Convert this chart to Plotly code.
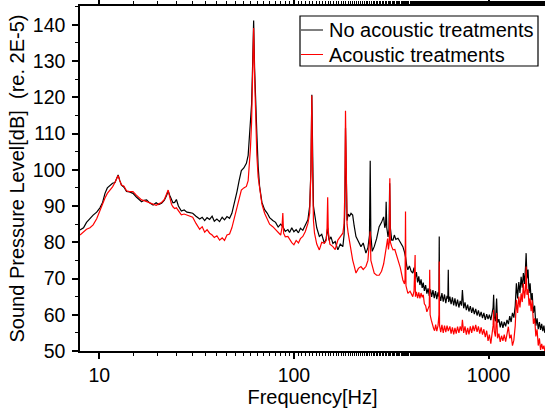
import plotly.graph_objects as go

# ---- data ----
black_freq_low = [7.96, 8.3, 8.6, 8.96, 9.3, 9.7, 10.08, 10.4, 10.7, 11.0, 11.35, 11.7, 12.04, 12.3, 12.5, 12.75,
              13.0, 13.4, 13.8, 14.3, 14.9, 15.5, 16.0, 16.5, 17.0, 17.5, 18.2, 18.9, 19.6, 20.2, 20.9, 21.6,
              22.2, 22.6, 23.0, 23.5, 23.9, 24.4, 24.9, 25.5, 26.4, 27.3, 28.2, 29.2, 30.2, 31.4, 32.8, 33.8,
              34.8, 35.8, 36.9, 38.0, 39.0, 40.2, 41.5, 42.8, 44.0, 45.3, 46.7, 48.0, 49.6, 51.0, 52.3, 53.7,
              55.3, 57.0, 58.2, 59.0, 59.8, 60.6, 61.3, 62.1, 62.8, 63.5, 64.5, 65.5, 66.6, 68.5, 70.7, 73.0,
              75.0, 77.9, 80.5, 83.0, 85.5, 87.7, 90.3, 93.1, 95.0, 97.5, 100, 102.7, 105.5, 108.0, 111.1,
              114.5, 118.0, 120.5, 122.3, 123.6, 124.8, 126.0, 127.6, 131.0, 135.1, 139.0, 143.4, 146.5,
              149.1, 151.5, 155.0, 158.6, 163.0, 168.2, 173.0, 178.4, 181.0, 182.8, 184.1, 185.5, 187.5,
              190.0, 192.9, 196.5, 200.4, 204.0, 208.4, 214.5, 221.0, 227.0, 234.4, 240.0, 244.5, 246.6,
              248.5, 252.5, 258.6, 266.0, 274.1, 282.0, 289.0, 293.0, 296.0, 297.8, 300.0, 304.5, 308.0,
              310.5, 313.0, 318.0, 323.0, 328.0, 334.0, 342.5, 352.0, 362.8, 369.0, 374.4, 380.0, 385.0,
              392.0, 400.0]
black_db_low = [83.4, 84.0, 85.5, 86.7, 87.5, 88.3, 89.5, 91.0, 93.5, 95.0, 95.8, 96.3, 96.5, 97.5, 98.6, 97.0,
            95.8, 95.2, 94.0, 93.9, 93.5, 92.5, 91.8, 91.2, 91.6, 91.7, 90.8, 90.3, 90.9, 90.4, 90.8, 91.6,
            93.0, 94.2, 93.0, 91.5, 90.9, 91.0, 91.8, 90.0, 88.6, 88.9, 88.3, 88.2, 88.0, 87.2, 86.4, 86.9,
            86.0, 86.8, 86.3, 87.2, 85.8, 86.4, 85.7, 86.9, 86.2, 87.1, 86.6, 88.0, 91.0, 94.0, 97.0, 99.8,
            100.5, 101.8, 104.0, 108.0, 113.0, 118.0, 128.0, 141.2, 128.0, 118.0, 110.0, 101.0, 95.5, 91.0,
            89.0, 88.0, 86.8, 86.0, 85.5, 84.2, 85.0, 84.3, 83.0, 83.5, 82.7, 84.0, 82.9, 83.5, 82.6, 83.9,
            83.3, 84.8, 86.2, 90.0, 100.0, 120.7, 100.0, 90.0, 88.0, 84.0, 81.6, 82.2, 79.7, 81.0, 84.0,
            80.5, 81.5, 79.7, 80.2, 77.9, 79.5, 78.8, 82.0, 90.0, 111.5, 92.0, 86.0, 87.8, 87.1, 88.0, 87.5,
            84.5, 81.6, 80.2, 78.8, 79.8, 77.0, 78.5, 82.0, 102.5, 82.0, 77.5, 78.8, 81.0, 84.3, 85.5, 87.0,
            84.0, 85.0, 91.2, 84.0, 81.5, 83.5, 96.3, 84.0, 80.6, 80.6, 82.0, 80.8, 81.1, 80.0, 78.8, 77.5,
            76.0, 73.5, 72.4, 73.5, 72.0]
black_freq_high = [408, 414, 420, 426, 432, 438, 444, 450, 456, 462,
                   468, 475, 482, 489, 496, 503, 510, 518, 526, 534,
                   542, 550, 556, 558, 560, 568, 576, 585, 594, 603,
                   612, 618, 621, 624, 633, 642, 652, 662, 672, 682,
                   693, 704, 715, 726, 734, 745, 757, 769, 781, 793,
                   806, 819, 832, 845, 859, 873, 887, 901, 916, 931,
                   946, 962, 978, 994, 1010, 1027, 1044, 1055, 1062, 1070,
                   1085, 1100, 1112, 1130, 1148, 1166, 1185, 1204, 1224, 1244,
                   1264, 1285, 1306, 1327, 1349, 1371, 1390, 1410, 1430, 1450,
                   1470, 1490, 1510, 1530, 1548, 1560, 1575, 1595, 1615, 1635,
                   1655, 1675, 1700, 1725, 1750, 1775, 1800, 1825, 1850, 1875,
                   1900, 1925, 1945]
black_db_high = [71.5, 73.0, 70.0, 71.8, 68.9, 70.6, 68.2, 69.8, 67.4, 68.9,
                 66.6, 68.2, 65.8, 67.3, 65.2, 67.0, 64.9, 66.8, 64.6, 66.5,
                 64.3, 66.2, 65.0, 81.6, 65.5, 63.8, 66.0, 63.6, 65.6, 63.2,
                 65.2, 64.5, 72.4, 63.5, 65.0, 62.9, 64.8, 62.6, 64.5, 62.3,
                 64.2, 62.0, 63.8, 62.5, 66.8, 61.8, 63.4, 61.3, 62.8, 60.9,
                 62.4, 60.5, 62.0, 60.2, 61.6, 59.8, 61.2, 59.5, 60.8, 59.1,
                 60.5, 58.6, 60.2, 58.8, 60.0, 58.5, 60.3, 62.0, 65.5, 59.5,
                 58.2, 64.5, 57.8, 58.8, 56.5, 58.2, 56.4, 58.0, 56.8, 58.6,
                 57.4, 59.6, 58.0, 60.5, 59.2, 62.5, 68.7, 64.5, 69.0, 66.0,
                 70.5, 67.5, 71.5, 68.5, 73.0, 77.0, 70.0, 72.5, 66.0, 68.7,
                 64.0, 66.0, 60.5, 62.5, 57.0, 59.0, 56.0, 58.0, 55.8, 57.5,
                 55.5, 57.0, 55.0]

red_freq_low = [7.96, 8.3, 8.6, 8.96, 9.3, 9.7, 10.08, 10.4, 10.7, 11.0, 11.35, 11.7, 12.04, 12.3, 12.5, 12.75,
            13.0, 13.4, 13.8, 14.3, 14.9, 15.5, 16.0, 16.5, 17.0, 17.5, 18.2, 18.9, 19.6, 20.2, 20.9, 21.6,
            22.2, 22.6, 23.0, 23.5, 23.9, 24.4, 24.9, 25.5, 26.4, 27.3, 28.2, 29.2, 30.2, 31.4, 32.8, 33.8,
            34.8, 35.8, 36.9, 38.0, 39.0, 40.2, 41.5, 42.8, 44.0, 45.3, 46.7, 48.0, 49.6, 51.0, 52.3, 53.7,
            55.3, 57.0, 58.2, 59.0, 59.8, 60.6, 61.3, 62.1, 62.8, 63.5, 64.5, 65.5, 66.6, 68.5, 70.7, 73.0,
            75.0, 77.9, 80.5, 83.0, 85.5, 86.8, 87.7, 88.5, 90.3, 93.1, 95.0, 97.5, 100, 102.7, 105.5, 108.0,
            111.1, 114.5, 118.0, 120.5, 122.3, 123.6, 124.8, 126.0, 127.6, 131.0, 135.1, 139.0, 143.4,
            146.5, 148.0, 149.1, 150.2, 153.0, 158.6, 163.0, 168.2, 173.0, 178.4, 181.0, 182.8, 184.1,
            185.5, 187.5, 190.0, 192.9, 196.5, 200.4, 204.0, 208.4, 214.5, 221.0, 227.0, 234.4, 240.0,
            244.0, 246.6, 248.5, 252.5, 258.6, 266.0, 274.1, 282.0, 289.0, 295.0, 299.0, 303.0, 306.0,
            309.0, 311.0, 313.0, 318.0, 323.0, 330.0, 336.0, 342.5, 352.0, 362.8, 370.0, 372.5, 374.4,
            376.5, 385.0, 395.0]
red_db_low = [82.0, 83.0, 83.6, 84.0, 84.8, 86.5, 88.9, 90.8, 92.2, 93.5, 94.4, 95.3, 96.5, 97.8, 98.4, 97.0,
          95.8, 95.5, 94.2, 94.0, 94.0, 93.0, 92.2, 91.7, 91.5, 91.2, 91.0, 90.5, 90.2, 90.6, 91.0, 91.8,
          93.4, 94.4, 92.5, 90.5, 89.8, 89.3, 89.5, 88.6, 87.6, 87.8, 87.5, 87.3, 86.9, 85.2, 83.6, 84.3,
          82.8, 83.5, 82.5, 82.0, 81.3, 81.8, 80.6, 81.2, 80.5, 82.0, 82.3, 84.0, 87.1, 90.0, 92.5, 94.4,
          95.0, 95.4, 97.0, 101.0, 106.0, 113.0, 124.0, 139.1, 126.0, 114.0, 104.0, 98.0, 95.4, 90.5, 88.0,
          86.5, 85.0, 84.3, 83.5, 82.6, 82.0, 84.0, 88.1, 82.5, 81.5, 81.6, 80.8, 79.9, 79.3, 80.5, 79.8,
          81.0, 81.6, 83.0, 85.2, 88.0, 100.0, 120.5, 98.0, 86.0, 82.5, 79.5, 77.9, 80.0, 79.7, 80.5, 84.0,
          92.4, 83.0, 79.5, 78.8, 78.0, 80.6, 81.5, 82.5, 85.0, 95.0, 116.3, 96.0, 85.0, 82.5, 80.0, 77.5,
          75.1, 73.5, 71.5, 72.8, 73.3, 72.5, 73.3, 75.0, 79.8, 83.0, 75.0, 73.5, 71.5, 70.9, 70.9, 72.0,
          74.0, 77.0, 79.5, 81.0, 78.0, 80.0, 97.7, 80.0, 78.8, 77.9, 78.0, 76.5, 75.1, 73.0, 69.6, 68.5,
          70.0, 88.5, 68.0, 65.9, 66.5]
red_freq_high = [408, 414, 419.5, 421, 426, 432, 438, 444, 450, 456,
                 462, 468, 475, 482, 489, 496, 498.5, 501, 508, 515,
                 522, 528, 535, 542, 550, 556, 558, 560, 568, 576,
                 585, 594, 603, 612, 621, 633, 642, 652, 662, 672,
                 682, 693, 704, 715, 726, 734, 745, 757, 769, 781,
                 793, 806, 819, 832, 845, 859, 873, 887, 901, 916,
                 931, 946, 962, 978, 994, 1010, 1027, 1044, 1055, 1062,
                 1070, 1085, 1100, 1112, 1130, 1148, 1166, 1185, 1204, 1224,
                 1244, 1264, 1285, 1306, 1327, 1349, 1371, 1390, 1410, 1430,
                 1450, 1470, 1490, 1510, 1530, 1548, 1560, 1575, 1595, 1615,
                 1635, 1655, 1675, 1700, 1725, 1750, 1775, 1800, 1825, 1850,
                 1875, 1900, 1925, 1945]
red_db_high = [65.0, 66.5, 76.5, 65.0, 66.3, 64.6, 66.2, 64.5, 66.0, 64.8,
               65.5, 63.0, 62.5, 60.8, 62.0, 62.5, 72.4, 60.0, 58.5, 57.0,
               56.2, 55.6, 57.3, 55.5, 57.0, 60.0, 74.7, 57.0, 55.2, 57.2,
               55.0, 57.0, 55.2, 57.0, 55.5, 56.8, 54.8, 56.5, 54.6, 56.4,
               54.8, 56.7, 55.0, 56.8, 55.5, 58.6, 55.0, 56.8, 54.5, 56.4,
               54.6, 56.8, 55.0, 57.0, 55.5, 57.2, 55.3, 56.8, 54.8, 56.5,
               54.5, 56.0, 53.8, 55.6, 52.8, 54.5, 52.0, 55.0, 57.0, 61.3,
               55.5, 54.0, 60.5, 53.5, 54.8, 52.5, 54.2, 52.8, 54.5, 52.6,
               55.0, 56.7, 53.5, 54.5, 51.5, 53.0, 57.0, 64.1, 60.5, 65.0,
               62.0, 65.9, 63.5, 68.7, 64.5, 67.0, 73.3, 65.5, 67.0, 62.5,
               64.5, 61.0, 64.0, 57.5, 59.0, 54.0, 56.0, 51.5, 53.5, 50.3,
               52.0, 50.5, 51.5, 50.0]

black_freq = black_freq_low + black_freq_high
black_db = black_db_low + black_db_high
red_freq = red_freq_low + red_freq_high
red_db = red_db_low + red_db_high
assert len(black_freq) == len(black_db), (len(black_freq), len(black_db))
assert len(red_freq) == len(red_db), (len(red_freq), len(red_db))

series_names = ["No acoustic treatments", "Acoustic treatments"]
series_colors = ["black", "red"]
x_tick_vals = [10, 100, 1000]
x_tick_text = ["10", "100", "1000"]
y_tick_vals = [50, 60, 70, 80, 90, 100, 110, 120, 130, 140]

FONT = "Arial, 'Liberation Sans', sans-serif"

fig = go.Figure()
fig.add_trace(go.Scatter(x=black_freq, y=black_db, mode="lines", name=series_names[0],
                         line=dict(color=series_colors[0], width=1.2), showlegend=False))
fig.add_trace(go.Scatter(x=red_freq, y=red_db, mode="lines", name=series_names[1],
                         line=dict(color=series_colors[1], width=1.2), showlegend=False))

axis_common = dict(showline=True, linecolor="black", linewidth=1.5, mirror="ticks",
                   ticks="outside", tickcolor="black", tickwidth=1.5, ticklen=6,
                   showgrid=False, zeroline=False, automargin=False,
                   tickfont=dict(family=FONT, size=19.5, color="black"))

fig.update_xaxes(type="log", range=[0.901, 3.29], tickvals=x_tick_vals, ticktext=x_tick_text,
                 title=dict(text="Frequency[Hz]", font=dict(family=FONT, size=20, color="black"), standoff=5),
                 minor=dict(ticks="outside", ticklen=3.5, tickcolor="black", tickwidth=1, showgrid=False),
                 **axis_common)
fig.update_yaxes(range=[50, 145.2], tickvals=y_tick_vals, ticklabelstandoff=3,
                 title=dict(text="Sound Pressure Level[dB] \u00a0(re. 2E-5)",
                            font=dict(family=FONT, size=20, color="black"), standoff=3),
                 minor=dict(dtick=5, ticks="outside", ticklen=3.5, tickcolor="black", tickwidth=1, showgrid=False),
                 **axis_common)

# ---- legend drawn as a box with sample lines and real text ----
def px_x(p):
    return (p - 80) / 465.0

def px_y(p):
    return (351 - p) / 345.0

fig.add_shape(type="rect", xref="paper", yref="paper",
              x0=px_x(300), x1=px_x(538), y0=px_y(66), y1=px_y(16),
              line=dict(color="black", width=1.2), fillcolor="white", layer="above")
for i, (name, col) in enumerate(zip(series_names, series_colors)):
    row_y = px_y(30 + 24.5 * i)
    fig.add_shape(type="line", xref="paper", yref="paper",
                  x0=px_x(301), x1=px_x(323), y0=row_y, y1=row_y,
                  line=dict(color=col, width=1), layer="above")
    fig.add_annotation(xref="paper", yref="paper", x=px_x(327), y=row_y,
                       xanchor="left", yanchor="middle", showarrow=False, text=name,
                       font=dict(family=FONT, size=20, color="black"))

fig.update_layout(
    width=545, height=412,
    margin=dict(l=80, r=0, t=6, b=61),
    paper_bgcolor="white", plot_bgcolor="white",
    font=dict(family=FONT, size=20, color="black"),
    showlegend=False,
)

fig.write_html("out.html", config={"displayModeBar": False},
               post_script="document.body.style.margin='0';document.body.style.overflow='hidden';")
